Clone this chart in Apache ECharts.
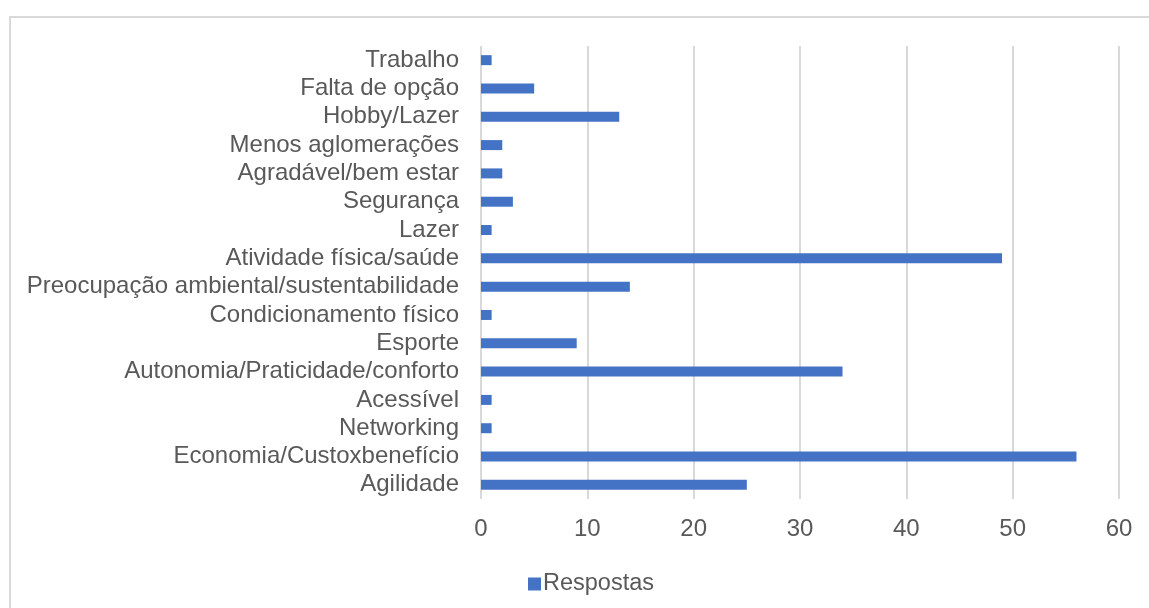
<!DOCTYPE html>
<html>
<head>
<meta charset="utf-8">
<style>
  html, body { margin: 0; padding: 0; background: #ffffff; }
  #chart { width: 1149px; height: 608px; }
</style>
<script src="https://cdn.jsdelivr.net/npm/echarts@6/dist/echarts.min.js"></script>
</head>
<body>
<div id="chart"></div>
<script>
// Motivos citados, de baixo para cima no eixo
const categories = [
  'Agilidade',
  'Economia/Custoxbenefício',
  'Networking',
  'Acessível',
  'Autonomia/Praticidade/conforto',
  'Esporte',
  'Condicionamento físico',
  'Preocupação ambiental/sustentabilidade',
  'Atividade física/saúde',
  'Lazer',
  'Segurança',
  'Agradável/bem estar',
  'Menos aglomerações',
  'Hobby/Lazer',
  'Falta de opção',
  'Trabalho'
];
const respostas = [25, 56, 1, 1, 34, 9, 1, 14, 49, 1, 3, 2, 2, 13, 5, 1];
const seriesName = 'Respostas';

const textColor = '#595959';
const gridColor = '#d9d9d9';
const barColor = '#4472C4';
const fontFamily = '"Liberation Sans", Arial, sans-serif';

const chart = echarts.init(document.getElementById('chart'), null, { renderer: 'canvas' });

chart.setOption({
  animation: false,
  backgroundColor: '#ffffff',
  textStyle: { fontFamily: fontFamily },
  graphic: [{
    type: 'rect',
    shape: { x: 10, y: 17, width: 1300, height: 800 },
    style: { fill: 'none', stroke: gridColor, lineWidth: 2 },
    silent: true,
    z: -1
  }],
  legend: {
    data: [seriesName],
    left: 523,
    top: 567,
    itemWidth: 13,
    itemHeight: 13,
    itemGap: 5,
    icon: 'rect',
    textStyle: { color: textColor, fontSize: 23.5, fontFamily: fontFamily, padding: [0, 0, 0, -3] }
  },
  grid: {
    left: 481,
    right: 30,
    top: 46,
    bottom: 109,
    containLabel: false
  },
  xAxis: {
    type: 'value',
    min: 0,
    max: 60,
    interval: 10,
    axisLine: { show: false },
    axisTick: { show: false },
    splitLine: { show: true, lineStyle: { color: gridColor, width: 2 } },
    axisLabel: { color: textColor, fontSize: 24, margin: 18, fontFamily: fontFamily }
  },
  yAxis: {
    type: 'category',
    data: categories,
    axisLine: { show: false },
    axisTick: { show: false },
    axisLabel: { color: textColor, fontSize: 24, margin: 22, interval: 0, fontFamily: fontFamily }
  },
  series: [{
    name: seriesName,
    type: 'bar',
    data: respostas,
    barWidth: 10,
    itemStyle: { color: barColor }
  }]
});
</script>
</body>
</html>
